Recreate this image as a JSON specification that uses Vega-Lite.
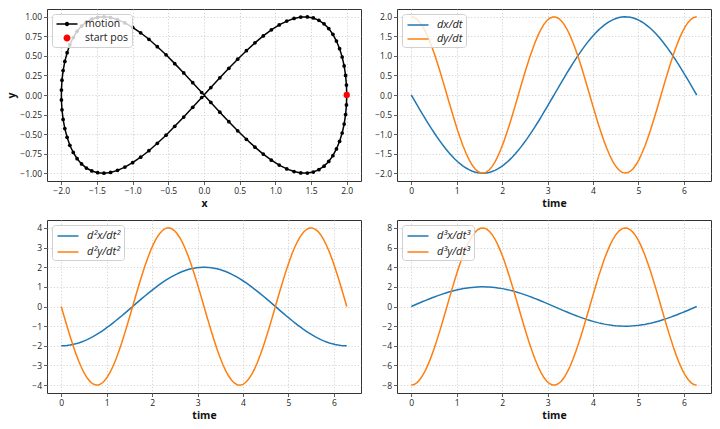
{
"$schema": "https://vega.github.io/schema/vega-lite/v6.json",
"padding": {"left": 6, "top": 8, "right": 5, "bottom": 5},
"datasets": {"d": [
{"t":0,"x":2,"y":0,"dx":0,"dy":2,"d2x":-2,"d2y":0,"d3x":0,"d3y":-8},
{"t":0.063,"x":1.996,"y":0.127,"dx":-0.126,"dy":1.984,"d2x":-1.996,"d2y":-0.508,"d3x":0.126,"d3y":-7.936},
{"t":0.127,"x":1.984,"y":0.251,"dx":-0.254,"dy":1.936,"d2x":-1.984,"d2y":-1.004,"d3x":0.254,"d3y":-7.744},
{"t":0.19,"x":1.964,"y":0.372,"dx":-0.378,"dy":1.856,"d2x":-1.964,"d2y":-1.488,"d3x":0.378,"d3y":-7.424},
{"t":0.254,"x":1.936,"y":0.486,"dx":-0.502,"dy":1.748,"d2x":-1.936,"d2y":-1.944,"d3x":0.502,"d3y":-6.992},
{"t":0.317,"x":1.9,"y":0.593,"dx":-0.624,"dy":1.61,"d2x":-1.9,"d2y":-2.372,"d3x":0.624,"d3y":-6.44},
{"t":0.381,"x":1.856,"y":0.69,"dx":-0.744,"dy":1.448,"d2x":-1.856,"d2y":-2.76,"d3x":0.744,"d3y":-5.792},
{"t":0.444,"x":1.806,"y":0.776,"dx":-0.86,"dy":1.262,"d2x":-1.806,"d2y":-3.104,"d3x":0.86,"d3y":-5.048},
{"t":0.508,"x":1.748,"y":0.85,"dx":-0.972,"dy":1.054,"d2x":-1.748,"d2y":-3.4,"d3x":0.972,"d3y":-4.216},
{"t":0.571,"x":1.682,"y":0.91,"dx":-1.082,"dy":0.83,"d2x":-1.682,"d2y":-3.64,"d3x":1.082,"d3y":-3.32},
{"t":0.635,"x":1.61,"y":0.955,"dx":-1.186,"dy":0.594,"d2x":-1.61,"d2y":-3.82,"d3x":1.186,"d3y":-2.376},
{"t":0.698,"x":1.532,"y":0.985,"dx":-1.286,"dy":0.348,"d2x":-1.532,"d2y":-3.94,"d3x":1.286,"d3y":-1.392},
{"t":0.762,"x":1.448,"y":0.999,"dx":-1.38,"dy":0.096,"d2x":-1.448,"d2y":-3.996,"d3x":1.38,"d3y":-0.384},
{"t":0.825,"x":1.356,"y":0.997,"dx":-1.47,"dy":-0.158,"d2x":-1.356,"d2y":-3.988,"d3x":1.47,"d3y":0.632},
{"t":0.889,"x":1.262,"y":0.979,"dx":-1.552,"dy":-0.41,"d2x":-1.262,"d2y":-3.916,"d3x":1.552,"d3y":1.64},
{"t":0.952,"x":1.16,"y":0.945,"dx":-1.63,"dy":-0.654,"d2x":-1.16,"d2y":-3.78,"d3x":1.63,"d3y":2.616},
{"t":1.015,"x":1.054,"y":0.896,"dx":-1.7,"dy":-0.888,"d2x":-1.054,"d2y":-3.584,"d3x":1.7,"d3y":3.552},
{"t":1.079,"x":0.944,"y":0.833,"dx":-1.762,"dy":-1.108,"d2x":-0.944,"d2y":-3.332,"d3x":1.762,"d3y":4.432},
{"t":1.142,"x":0.83,"y":0.756,"dx":-1.82,"dy":-1.31,"d2x":-0.83,"d2y":-3.024,"d3x":1.82,"d3y":5.24},
{"t":1.206,"x":0.714,"y":0.667,"dx":-1.868,"dy":-1.49,"d2x":-0.714,"d2y":-2.668,"d3x":1.868,"d3y":5.96},
{"t":1.269,"x":0.594,"y":0.567,"dx":-1.91,"dy":-1.648,"d2x":-0.594,"d2y":-2.268,"d3x":1.91,"d3y":6.592},
{"t":1.333,"x":0.472,"y":0.458,"dx":-1.944,"dy":-1.778,"d2x":-0.472,"d2y":-1.832,"d3x":1.944,"d3y":7.112},
{"t":1.396,"x":0.348,"y":0.342,"dx":-1.97,"dy":-1.88,"d2x":-0.348,"d2y":-1.368,"d3x":1.97,"d3y":7.52},
{"t":1.46,"x":0.222,"y":0.22,"dx":-1.988,"dy":-1.95,"d2x":-0.222,"d2y":-0.88,"d3x":1.988,"d3y":7.8},
{"t":1.523,"x":0.096,"y":0.095,"dx":-1.998,"dy":-1.99,"d2x":-0.096,"d2y":-0.38,"d3x":1.998,"d3y":7.96},
{"t":1.587,"x":-0.032,"y":-0.032,"dx":-2,"dy":-1.998,"d2x":0.032,"d2y":0.128,"d3x":2,"d3y":7.992},
{"t":1.65,"x":-0.158,"y":-0.158,"dx":-1.994,"dy":-1.974,"d2x":0.158,"d2y":0.632,"d3x":1.994,"d3y":7.896},
{"t":1.714,"x":-0.284,"y":-0.282,"dx":-1.98,"dy":-1.918,"d2x":0.284,"d2y":1.128,"d3x":1.98,"d3y":7.672},
{"t":1.777,"x":-0.41,"y":-0.401,"dx":-1.958,"dy":-1.832,"d2x":0.41,"d2y":1.604,"d3x":1.958,"d3y":7.328},
{"t":1.841,"x":-0.532,"y":-0.514,"dx":-1.928,"dy":-1.716,"d2x":0.532,"d2y":2.056,"d3x":1.928,"d3y":6.864},
{"t":1.904,"x":-0.654,"y":-0.618,"dx":-1.89,"dy":-1.572,"d2x":0.654,"d2y":2.472,"d3x":1.89,"d3y":6.288},
{"t":1.967,"x":-0.772,"y":-0.713,"dx":-1.844,"dy":-1.402,"d2x":0.772,"d2y":2.852,"d3x":1.844,"d3y":5.608},
{"t":2.031,"x":-0.888,"y":-0.796,"dx":-1.792,"dy":-1.212,"d2x":0.888,"d2y":3.184,"d3x":1.792,"d3y":4.848},
{"t":2.094,"x":-1,"y":-0.866,"dx":-1.732,"dy":-1,"d2x":1,"d2y":3.464,"d3x":1.732,"d3y":4},
{"t":2.158,"x":-1.108,"y":-0.922,"dx":-1.666,"dy":-0.772,"d2x":1.108,"d2y":3.688,"d3x":1.666,"d3y":3.088},
{"t":2.221,"x":-1.212,"y":-0.964,"dx":-1.592,"dy":-0.532,"d2x":1.212,"d2y":3.856,"d3x":1.592,"d3y":2.128},
{"t":2.285,"x":-1.31,"y":-0.99,"dx":-1.512,"dy":-0.284,"d2x":1.31,"d2y":3.96,"d3x":1.512,"d3y":1.136},
{"t":2.348,"x":-1.402,"y":-1,"dx":-1.426,"dy":-0.032,"d2x":1.402,"d2y":4,"d3x":1.426,"d3y":0.128},
{"t":2.412,"x":-1.49,"y":-0.994,"dx":-1.334,"dy":0.222,"d2x":1.49,"d2y":3.976,"d3x":1.334,"d3y":-0.888},
{"t":2.475,"x":-1.572,"y":-0.972,"dx":-1.236,"dy":0.472,"d2x":1.572,"d2y":3.888,"d3x":1.236,"d3y":-1.888},
{"t":2.539,"x":-1.648,"y":-0.934,"dx":-1.134,"dy":0.714,"d2x":1.648,"d2y":3.736,"d3x":1.134,"d3y":-2.856},
{"t":2.602,"x":-1.716,"y":-0.881,"dx":-1.028,"dy":0.944,"d2x":1.716,"d2y":3.524,"d3x":1.028,"d3y":-3.776},
{"t":2.666,"x":-1.778,"y":-0.815,"dx":-0.916,"dy":1.16,"d2x":1.778,"d2y":3.26,"d3x":0.916,"d3y":-4.64},
{"t":2.729,"x":-1.832,"y":-0.735,"dx":-0.802,"dy":1.356,"d2x":1.832,"d2y":2.94,"d3x":0.802,"d3y":-5.424},
{"t":2.793,"x":-1.88,"y":-0.643,"dx":-0.684,"dy":1.532,"d2x":1.88,"d2y":2.572,"d3x":0.684,"d3y":-6.128},
{"t":2.856,"x":-1.918,"y":-0.541,"dx":-0.564,"dy":1.682,"d2x":1.918,"d2y":2.164,"d3x":0.564,"d3y":-6.728},
{"t":2.919,"x":-1.95,"y":-0.43,"dx":-0.44,"dy":1.806,"d2x":1.95,"d2y":1.72,"d3x":0.44,"d3y":-7.224},
{"t":2.983,"x":-1.974,"y":-0.312,"dx":-0.316,"dy":1.9,"d2x":1.974,"d2y":1.248,"d3x":0.316,"d3y":-7.6},
{"t":3.046,"x":-1.99,"y":-0.189,"dx":-0.19,"dy":1.964,"d2x":1.99,"d2y":0.756,"d3x":0.19,"d3y":-7.856},
{"t":3.11,"x":-1.998,"y":-0.063,"dx":-0.064,"dy":1.996,"d2x":1.998,"d2y":0.252,"d3x":0.064,"d3y":-7.984},
{"t":3.173,"x":-1.998,"y":0.063,"dx":0.064,"dy":1.996,"d2x":1.998,"d2y":-0.252,"d3x":-0.064,"d3y":-7.984},
{"t":3.237,"x":-1.99,"y":0.189,"dx":0.19,"dy":1.964,"d2x":1.99,"d2y":-0.756,"d3x":-0.19,"d3y":-7.856},
{"t":3.3,"x":-1.974,"y":0.312,"dx":0.316,"dy":1.9,"d2x":1.974,"d2y":-1.248,"d3x":-0.316,"d3y":-7.6},
{"t":3.364,"x":-1.95,"y":0.43,"dx":0.44,"dy":1.806,"d2x":1.95,"d2y":-1.72,"d3x":-0.44,"d3y":-7.224},
{"t":3.427,"x":-1.918,"y":0.541,"dx":0.564,"dy":1.682,"d2x":1.918,"d2y":-2.164,"d3x":-0.564,"d3y":-6.728},
{"t":3.491,"x":-1.88,"y":0.643,"dx":0.684,"dy":1.532,"d2x":1.88,"d2y":-2.572,"d3x":-0.684,"d3y":-6.128},
{"t":3.554,"x":-1.832,"y":0.735,"dx":0.802,"dy":1.356,"d2x":1.832,"d2y":-2.94,"d3x":-0.802,"d3y":-5.424},
{"t":3.618,"x":-1.778,"y":0.815,"dx":0.916,"dy":1.16,"d2x":1.778,"d2y":-3.26,"d3x":-0.916,"d3y":-4.64},
{"t":3.681,"x":-1.716,"y":0.881,"dx":1.028,"dy":0.944,"d2x":1.716,"d2y":-3.524,"d3x":-1.028,"d3y":-3.776},
{"t":3.745,"x":-1.648,"y":0.934,"dx":1.134,"dy":0.714,"d2x":1.648,"d2y":-3.736,"d3x":-1.134,"d3y":-2.856},
{"t":3.808,"x":-1.572,"y":0.972,"dx":1.236,"dy":0.472,"d2x":1.572,"d2y":-3.888,"d3x":-1.236,"d3y":-1.888},
{"t":3.871,"x":-1.49,"y":0.994,"dx":1.334,"dy":0.222,"d2x":1.49,"d2y":-3.976,"d3x":-1.334,"d3y":-0.888},
{"t":3.935,"x":-1.402,"y":1,"dx":1.426,"dy":-0.032,"d2x":1.402,"d2y":-4,"d3x":-1.426,"d3y":0.128},
{"t":3.998,"x":-1.31,"y":0.99,"dx":1.512,"dy":-0.284,"d2x":1.31,"d2y":-3.96,"d3x":-1.512,"d3y":1.136},
{"t":4.062,"x":-1.212,"y":0.964,"dx":1.592,"dy":-0.532,"d2x":1.212,"d2y":-3.856,"d3x":-1.592,"d3y":2.128},
{"t":4.125,"x":-1.108,"y":0.922,"dx":1.666,"dy":-0.772,"d2x":1.108,"d2y":-3.688,"d3x":-1.666,"d3y":3.088},
{"t":4.189,"x":-1,"y":0.866,"dx":1.732,"dy":-1,"d2x":1,"d2y":-3.464,"d3x":-1.732,"d3y":4},
{"t":4.252,"x":-0.888,"y":0.796,"dx":1.792,"dy":-1.212,"d2x":0.888,"d2y":-3.184,"d3x":-1.792,"d3y":4.848},
{"t":4.316,"x":-0.772,"y":0.713,"dx":1.844,"dy":-1.402,"d2x":0.772,"d2y":-2.852,"d3x":-1.844,"d3y":5.608},
{"t":4.379,"x":-0.654,"y":0.618,"dx":1.89,"dy":-1.572,"d2x":0.654,"d2y":-2.472,"d3x":-1.89,"d3y":6.288},
{"t":4.443,"x":-0.532,"y":0.514,"dx":1.928,"dy":-1.716,"d2x":0.532,"d2y":-2.056,"d3x":-1.928,"d3y":6.864},
{"t":4.506,"x":-0.41,"y":0.401,"dx":1.958,"dy":-1.832,"d2x":0.41,"d2y":-1.604,"d3x":-1.958,"d3y":7.328},
{"t":4.57,"x":-0.284,"y":0.282,"dx":1.98,"dy":-1.918,"d2x":0.284,"d2y":-1.128,"d3x":-1.98,"d3y":7.672},
{"t":4.633,"x":-0.158,"y":0.158,"dx":1.994,"dy":-1.974,"d2x":0.158,"d2y":-0.632,"d3x":-1.994,"d3y":7.896},
{"t":4.697,"x":-0.032,"y":0.032,"dx":2,"dy":-1.998,"d2x":0.032,"d2y":-0.128,"d3x":-2,"d3y":7.992},
{"t":4.76,"x":0.096,"y":-0.095,"dx":1.998,"dy":-1.99,"d2x":-0.096,"d2y":0.38,"d3x":-1.998,"d3y":7.96},
{"t":4.823,"x":0.222,"y":-0.22,"dx":1.988,"dy":-1.95,"d2x":-0.222,"d2y":0.88,"d3x":-1.988,"d3y":7.8},
{"t":4.887,"x":0.348,"y":-0.342,"dx":1.97,"dy":-1.88,"d2x":-0.348,"d2y":1.368,"d3x":-1.97,"d3y":7.52},
{"t":4.95,"x":0.472,"y":-0.458,"dx":1.944,"dy":-1.778,"d2x":-0.472,"d2y":1.832,"d3x":-1.944,"d3y":7.112},
{"t":5.014,"x":0.594,"y":-0.567,"dx":1.91,"dy":-1.648,"d2x":-0.594,"d2y":2.268,"d3x":-1.91,"d3y":6.592},
{"t":5.077,"x":0.714,"y":-0.667,"dx":1.868,"dy":-1.49,"d2x":-0.714,"d2y":2.668,"d3x":-1.868,"d3y":5.96},
{"t":5.141,"x":0.83,"y":-0.756,"dx":1.82,"dy":-1.31,"d2x":-0.83,"d2y":3.024,"d3x":-1.82,"d3y":5.24},
{"t":5.204,"x":0.944,"y":-0.833,"dx":1.762,"dy":-1.108,"d2x":-0.944,"d2y":3.332,"d3x":-1.762,"d3y":4.432},
{"t":5.268,"x":1.054,"y":-0.896,"dx":1.7,"dy":-0.888,"d2x":-1.054,"d2y":3.584,"d3x":-1.7,"d3y":3.552},
{"t":5.331,"x":1.16,"y":-0.945,"dx":1.63,"dy":-0.654,"d2x":-1.16,"d2y":3.78,"d3x":-1.63,"d3y":2.616},
{"t":5.395,"x":1.262,"y":-0.979,"dx":1.552,"dy":-0.41,"d2x":-1.262,"d2y":3.916,"d3x":-1.552,"d3y":1.64},
{"t":5.458,"x":1.356,"y":-0.997,"dx":1.47,"dy":-0.158,"d2x":-1.356,"d2y":3.988,"d3x":-1.47,"d3y":0.632},
{"t":5.522,"x":1.448,"y":-0.999,"dx":1.38,"dy":0.096,"d2x":-1.448,"d2y":3.996,"d3x":-1.38,"d3y":-0.384},
{"t":5.585,"x":1.532,"y":-0.985,"dx":1.286,"dy":0.348,"d2x":-1.532,"d2y":3.94,"d3x":-1.286,"d3y":-1.392},
{"t":5.649,"x":1.61,"y":-0.955,"dx":1.186,"dy":0.594,"d2x":-1.61,"d2y":3.82,"d3x":-1.186,"d3y":-2.376},
{"t":5.712,"x":1.682,"y":-0.91,"dx":1.082,"dy":0.83,"d2x":-1.682,"d2y":3.64,"d3x":-1.082,"d3y":-3.32},
{"t":5.775,"x":1.748,"y":-0.85,"dx":0.972,"dy":1.054,"d2x":-1.748,"d2y":3.4,"d3x":-0.972,"d3y":-4.216},
{"t":5.839,"x":1.806,"y":-0.776,"dx":0.86,"dy":1.262,"d2x":-1.806,"d2y":3.104,"d3x":-0.86,"d3y":-5.048},
{"t":5.902,"x":1.856,"y":-0.69,"dx":0.744,"dy":1.448,"d2x":-1.856,"d2y":2.76,"d3x":-0.744,"d3y":-5.792},
{"t":5.966,"x":1.9,"y":-0.593,"dx":0.624,"dy":1.61,"d2x":-1.9,"d2y":2.372,"d3x":-0.624,"d3y":-6.44},
{"t":6.029,"x":1.936,"y":-0.486,"dx":0.502,"dy":1.748,"d2x":-1.936,"d2y":1.944,"d3x":-0.502,"d3y":-6.992},
{"t":6.093,"x":1.964,"y":-0.372,"dx":0.378,"dy":1.856,"d2x":-1.964,"d2y":1.488,"d3x":-0.378,"d3y":-7.424},
{"t":6.156,"x":1.984,"y":-0.251,"dx":0.254,"dy":1.936,"d2x":-1.984,"d2y":1.004,"d3x":-0.254,"d3y":-7.744},
{"t":6.22,"x":1.996,"y":-0.127,"dx":0.126,"dy":1.984,"d2x":-1.996,"d2y":0.508,"d3x":-0.126,"d3y":-7.936},
{"t":6.283,"x":2,"y":0,"dx":0,"dy":2,"d2x":-2,"d2y":0,"d3x":0,"d3y":-8}
]},
"columns": 2,
"spacing": {"row": 10, "column": 12},
"resolve": {
  "scale": {"x": "independent", "y": "independent", "color": "independent", "shape": "independent"},
  "axis": {"x": "independent", "y": "independent"},
  "legend": {"color": "independent", "shape": "independent"}
},
"concat": [
{
  "width": 314, "height": 172,
  "data": {"name": "d"},
  "encoding": {
    "x": {"field": "x", "type": "quantitative", "scale": {"domain": [-2.2, 2.2], "nice": false, "zero": false}, "axis": {"values": [-2, -1.5, -1, -0.5, 0, 0.5, 1, 1.5, 2], "format": ".1f", "title": "x"}},
    "y": {"field": "y", "type": "quantitative", "scale": {"domain": [-1.1, 1.1], "nice": false, "zero": false}, "axis": {"values": [-1, -0.75, -0.5, -0.25, 0, 0.25, 0.5, 0.75, 1], "format": ".2f", "title": "y"}}
  },
  "layer": [
    {"mark": {"type": "line", "color": "black", "strokeWidth": 1.5}, "encoding": {"order": {"field": "t", "type": "quantitative"}}},
    {"mark": {"type": "point", "filled": true, "color": "black", "size": 14, "opacity": 1}, "encoding": {}},
    {"transform": [{"filter": "datum.t == 0"}],
     "mark": {"type": "point", "filled": true, "opacity": 0, "size": 196},
     "encoding": {
       "color": {"datum": "start pos", "scale": {"domain": ["motion", "start pos"], "range": ["black", "red"]}, "legend": {"title": null, "symbolOpacity": 1, "symbolSize": 196, "symbolStrokeWidth": 0}},
       "shape": {"datum": "start pos", "scale": {"domain": ["motion", "start pos"], "range": ["M-0.786,-0.107H2.214V0.107H-0.786Z M0.4,0A0.314,0.314 0 1,1 1.028,0A0.314,0.314 0 1,1 0.4,0Z", "M0.214,0A0.5,0.5 0 1,1 1.214,0A0.5,0.5 0 1,1 0.214,0Z"]}, "legend": {"title": null}}
     }},
    {"transform": [{"filter": "datum.t == 0"}], "mark": {"type": "point", "filled": true, "color": "red", "size": 40, "opacity": 1}, "encoding": {}}
  ]
},
{
  "width": 314, "height": 172,
  "data": {"name": "d"},
  "encoding": {"x": {"field": "t", "type": "quantitative", "scale": {"domain": [-0.314, 6.597], "nice": false, "zero": false}, "axis": {"values": [0, 1, 2, 3, 4, 5, 6], "format": "d", "title": "time"}}},
  "layer": [
    {"mark": {"type": "line", "strokeWidth": 1.5}, "encoding": {
      "y": {"field": "dx", "type": "quantitative", "scale": {"domain": [-2.2, 2.2], "nice": false, "zero": false}, "axis": {"values": [-2, -1.5, -1, -0.5, 0, 0.5, 1, 1.5, 2], "format": ".1f", "title": null}},
      "color": {"datum": "dx/dt", "scale": {"domain": ["dx/dt", "dy/dt"], "range": ["#1f77b4", "#ff7f0e"]}, "legend": {"title": null, "symbolType": "M-0.786,0H2.214", "symbolStrokeWidth": 1.5, "labelFontStyle": "italic", "labelFontSize": 11}}}},
    {"mark": {"type": "line", "strokeWidth": 1.5}, "encoding": {
      "y": {"field": "dy", "type": "quantitative", "axis": {"values": [-2, -1.5, -1, -0.5, 0, 0.5, 1, 1.5, 2], "format": ".1f", "title": null}},
      "color": {"datum": "dy/dt"}}}
  ]
},
{
  "width": 314, "height": 173,
  "data": {"name": "d"},
  "encoding": {"x": {"field": "t", "type": "quantitative", "scale": {"domain": [-0.314, 6.597], "nice": false, "zero": false}, "axis": {"values": [0, 1, 2, 3, 4, 5, 6], "format": "d", "title": "time"}}},
  "layer": [
    {"mark": {"type": "line", "strokeWidth": 1.5}, "encoding": {
      "y": {"field": "d2x", "type": "quantitative", "scale": {"domain": [-4.4, 4.4], "nice": false, "zero": false}, "axis": {"values": [-4, -3, -2, -1, 0, 1, 2, 3, 4], "format": "d", "title": null}},
      "color": {"datum": "d²x/dt²", "scale": {"domain": ["d²x/dt²", "d²y/dt²"], "range": ["#1f77b4", "#ff7f0e"]}, "legend": {"title": null, "symbolType": "M-0.786,0H2.214", "symbolStrokeWidth": 1.5, "labelFontStyle": "italic", "labelFontSize": 11, "rowPadding": 3}}}},
    {"mark": {"type": "line", "strokeWidth": 1.5}, "encoding": {
      "y": {"field": "d2y", "type": "quantitative", "axis": {"values": [-4, -3, -2, -1, 0, 1, 2, 3, 4], "format": "d", "title": null}},
      "color": {"datum": "d²y/dt²"}}}
  ]
},
{
  "width": 314, "height": 173,
  "data": {"name": "d"},
  "encoding": {"x": {"field": "t", "type": "quantitative", "scale": {"domain": [-0.314, 6.597], "nice": false, "zero": false}, "axis": {"values": [0, 1, 2, 3, 4, 5, 6], "format": "d", "title": "time"}}},
  "layer": [
    {"mark": {"type": "line", "strokeWidth": 1.5}, "encoding": {
      "y": {"field": "d3x", "type": "quantitative", "scale": {"domain": [-8.8, 8.8], "nice": false, "zero": false}, "axis": {"values": [-8, -6, -4, -2, 0, 2, 4, 6, 8], "format": "d", "title": null}},
      "color": {"datum": "d³x/dt³", "scale": {"domain": ["d³x/dt³", "d³y/dt³"], "range": ["#1f77b4", "#ff7f0e"]}, "legend": {"title": null, "symbolType": "M-0.786,0H2.214", "symbolStrokeWidth": 1.5, "labelFontStyle": "italic", "labelFontSize": 11, "rowPadding": 3}}}},
    {"mark": {"type": "line", "strokeWidth": 1.5}, "encoding": {
      "y": {"field": "d3y", "type": "quantitative", "axis": {"values": [-8, -6, -4, -2, 0, 2, 4, 6, 8], "format": "d", "title": null}},
      "color": {"datum": "d³y/dt³"}}}
  ]
}
],
"config": {
  "font": "Open Sans",
  "background": "white",
  "view": {"stroke": "#333", "strokeWidth": 1, "fill": "white"},
  "axis": {"domain": false, "grid": true, "gridColor": "#c8c8c8", "gridDash": [1.2, 2], "gridWidth": 0.8, "tickColor": "#333", "tickSize": 3.5, "tickWidth": 0.8, "labelFontSize": 8.5, "labelColor": "#222", "labelPadding": 2, "labelFlush": false, "labelOverlap": false, "titleFontSize": 10.5, "titleFontWeight": "bold", "titleColor": "#111", "titlePadding": 3},
  "legend": {"orient": "top-left", "offset": 5, "padding": 3, "fillColor": "rgba(255,255,255,0.8)", "strokeColor": "#d0d0d0", "cornerRadius": 3, "labelFontSize": 10.5, "labelColor": "#222", "symbolSize": 196, "labelOffset": 16, "rowPadding": 1}
}
}
